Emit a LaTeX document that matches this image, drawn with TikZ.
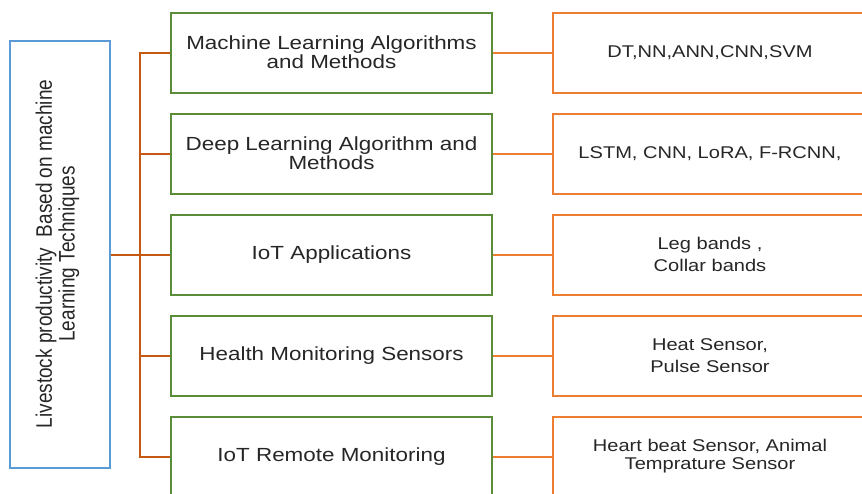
\documentclass[tikz,border=0pt]{standalone}
\usepackage{fontspec}
\setmainfont{Liberation Sans}[FakeStretch=1.18]
\newfontfamily\plainsans{Liberation Sans}
\definecolor{boxblue}{HTML}{5B9BD5}
\definecolor{boxgreen}{HTML}{5B8C3A}
\definecolor{trunkorange}{HTML}{C65911}
\definecolor{boxorange}{HTML}{ED7D31}
\definecolor{txt}{HTML}{262626}
\begin{document}
\begin{tikzpicture}[x=1pt,y=-1pt,
  rootbox/.style={draw=boxblue, line width=2pt, minimum width=100pt, minimum height=427pt, inner sep=0pt, text=txt},
  midbox/.style={draw=boxgreen, line width=2pt, minimum width=321pt, minimum height=80pt, inner sep=0pt, align=center, text=txt, font=\fontsize{19}{19}\selectfont},
  rightbox/.style={draw=boxorange, line width=2pt, minimum width=314pt, minimum height=80pt, inner sep=0pt, align=center, text=txt, font=\fontsize{17}{22.5}\selectfont},
  trunk/.style={draw=trunkorange, line width=2pt},
  link/.style={draw=boxorange, line width=2pt}]
\useasboundingbox (0,0) rectangle (862,493);
\clip (0,0) rectangle (862,493);

% root box with rotated text
\node[rootbox] (root) at (60,254.5) {};
\node[rotate=90, text=txt, inner sep=0pt, align=center] (roottext) at (58.5,254)
  {\scalebox{1}[1.18]{\plainsans\fontsize{19}{18.5}\selectfont\begin{tabular}{@{}c@{}}Livestock productivity\ \ Based on machine\\ Learning Techniques\end{tabular}}};

% middle column
\node[midbox] (m1) at (331.5,52.5) {Machine Learning Algorithms\\and Methods};
\node[midbox] (m2) at (331.5,153.5) {Deep Learning Algorithm and\\Methods};
\node[midbox] (m3) at (331.5,254.5) {IoT Applications};
\node[midbox] (m4) at (331.5,355.5) {Health Monitoring Sensors};
\node[midbox] (m5) at (331.5,456.5) {IoT Remote Monitoring};

% right column
\node[rightbox] (r1) at (710,52.5) {\raisebox{-5pt}{DT,NN,ANN,CNN,SVM}};
\node[rightbox] (r2) at (710,153.5) {\raisebox{-5pt}{LSTM, CNN, LoRA, F-RCNN,}};
\node[rightbox] (r3) at (710,254.5) {Leg bands ,\\Collar bands};
\node[rightbox] (r4) at (710,355.5) {Heat Sensor,\\Pulse Sensor};
\node[rightbox, font=\fontsize{17}{18}\selectfont] (r5) at (710,456.5) {Heart beat Sensor, Animal\\Temprature Sensor};

% trunk
\coordinate (jt) at (140,254.5);
\coordinate (jtop) at (140,52.5);
\coordinate (jbot) at (140,456.5);
\draw[trunk] (root.east |- jt) -- (jt);
\draw[trunk, line cap=rect] (jtop) -- (jbot);
\foreach \i in {1,...,5} {
  \draw[trunk] (m\i.west -| jt) -- (m\i.west);
  \draw[link] (m\i.east) -- (r\i.west);
}
\end{tikzpicture}
\end{document}
